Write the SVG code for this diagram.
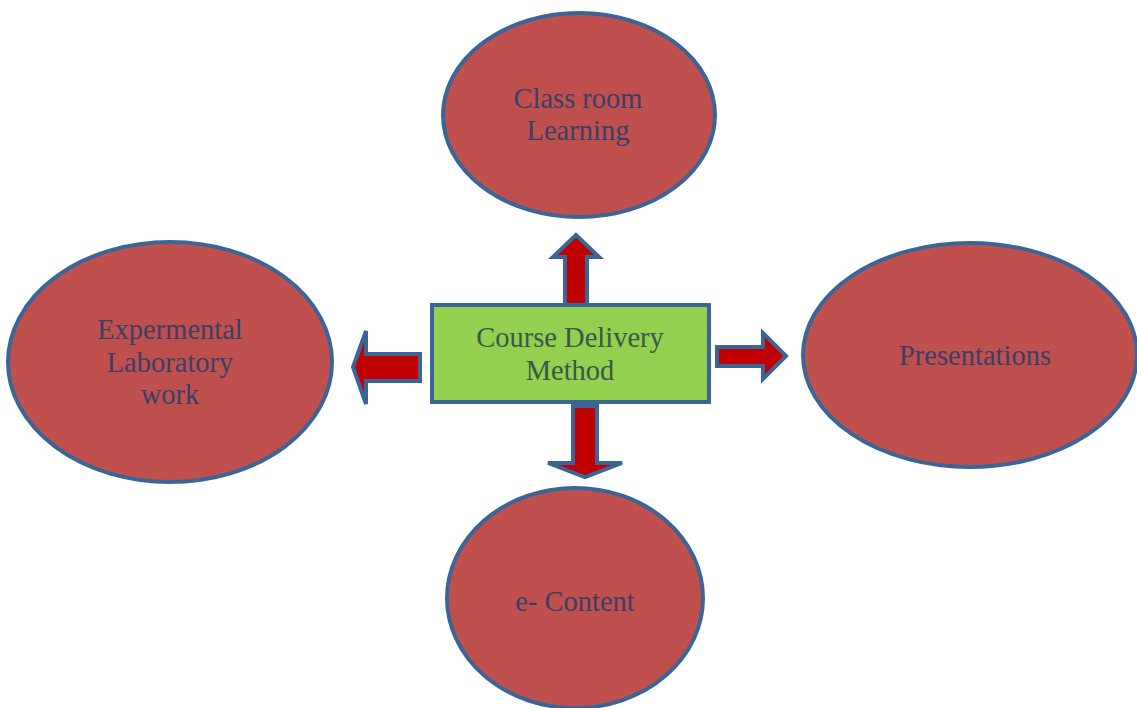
<svg xmlns="http://www.w3.org/2000/svg" width="1137" height="708" viewBox="0 0 1137 708">
<style>
.ell{fill:#C0504D;stroke:#3A6596;stroke-width:4}
.box{fill:#92D050;stroke:#3A6596;stroke-width:4}
.arr{fill:#C00000;stroke:#3A6596;stroke-width:4;stroke-linejoin:miter}
.t{font-family:"Liberation Serif","Times New Roman",serif;font-size:28.5px;fill:#3B3F66;text-anchor:middle}
.tc{fill:#3A5848}
</style>
<rect width="1137" height="708" fill="#ffffff"/>
<g id="connectors">
<path class="arr" d="M565,305 V257 H553 L576,235 L599,257 H587 V305 Z"/>
<path class="arr" d="M573,406 V463 H548 L585,477 L622,463 H597 V406 Z"/>
<path class="arr" d="M420,354 H366 V331 L353,367 L366,404 V381 H420 Z"/>
<path class="arr" d="M717,347 H763 V333 L786,356 L763,379 V366 H717 Z"/>
</g>
<g id="center">
<rect class="box" x="432" y="305" width="277" height="97"/>
<text class="t tc" x="570" y="347">Course Delivery</text>
<text class="t tc" x="570" y="380">Method</text>
</g>
<g id="classroom">
<ellipse class="ell" cx="579" cy="115" rx="136" ry="102"/>
<text class="t" x="578" y="108">Class room</text>
<text class="t" x="578" y="140">Learning</text>
</g>
<g id="lab">
<ellipse class="ell" cx="170" cy="362" rx="162" ry="120"/>
<text class="t" x="170" y="339">Expermental</text>
<text class="t" x="170" y="372">Laboratory</text>
<text class="t" x="170" y="404">work</text>
</g>
<g id="presentations">
<ellipse class="ell" cx="970" cy="355" rx="167" ry="112"/>
<text class="t" x="975" y="365">Presentations</text>
</g>
<g id="econtent">
<ellipse class="ell" cx="575" cy="598" rx="128" ry="110"/>
<text class="t" x="575" y="611">e- Content</text>
</g>
</svg>
